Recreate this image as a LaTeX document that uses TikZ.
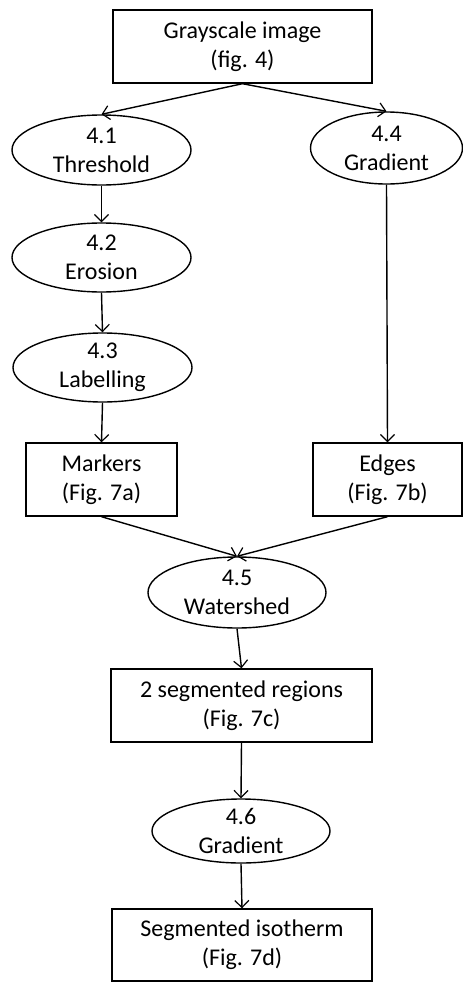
\documentclass[tikz,border=0pt]{standalone}
\usepackage{fontspec}
\setmainfont{Carlito}
\usetikzlibrary{shapes.geometric,arrows.meta}
\begin{document}
\begin{tikzpicture}[x=1pt,y=1pt,
  every node/.style={font=\fontsize{24}{29}\selectfont},
  box/.style={draw,line width=1.4pt,rectangle,inner sep=0pt},
  oval/.style={draw,line width=1.4pt,ellipse,inner sep=0pt},
  txt/.style={align=center,inner sep=0pt},
  conn/.style={line width=1.4pt,-{Straight Barb[length=7pt,width=14pt,line width=1.2pt]}}]
\useasboundingbox (0,0) rectangle (463,-983);
% boxes
\node[box,minimum width=259pt,minimum height=73pt] (top) at (242.5,-46.5) {};
\node[txt] (toptext) at (top) {Grayscale image\\(fig. 4)};
\node[box,minimum width=151pt,minimum height=73pt] (markers) at (101.5,-479.5) {};
\node[txt] (markerstext) at (markers) {Markers\\(Fig. 7a)};
\node[box,minimum width=149pt,minimum height=73pt] (edges) at (387.5,-479.5) {};
\node[txt] (edgestext) at (edges) {Edges\\(Fig. 7b)};
\node[box,minimum width=261pt,minimum height=73pt] (seg) at (241.5,-705.5) {};
\node[txt] (segtext) at (seg) {2 segmented regions\\(Fig. 7c)};
\node[box,minimum width=260pt,minimum height=72pt] (iso) at (242,-945) {};
\node[txt] (isotext) at (iso) {Segmented isotherm\\(Fig. 7d)};
% ellipses
\node[oval,minimum width=179pt,minimum height=70pt] (e41) at (101.5,-150) {};
\node[txt] (e41text) at (e41) {4.1\\Threshold};
\node[oval,minimum width=152pt,minimum height=72pt] (e44) at (386.5,-148) {};
\node[txt] (e44text) at (e44) {4.4\\Gradient};
\node[oval,minimum width=179pt,minimum height=69pt] (e42) at (101.5,-257.5) {};
\node[txt] (e42text) at (e42) {4.2\\Erosion};
\node[oval,minimum width=179pt,minimum height=69pt] (e43) at (102.5,-367.5) {};
\node[txt] (e43text) at (e43) {4.3\\Labelling};
\node[oval,minimum width=178pt,minimum height=71pt] (e45) at (237,-592.5) {};
\node[txt] (e45text) at (e45) {4.5\\Watershed};
\node[oval,minimum width=178pt,minimum height=64pt] (e46) at (241,-831) {};
\node[txt] (e46text) at (e46) {4.6\\Gradient};
% connectors
\draw[conn] (top.south) -- (e41.north);
\draw[conn] (top.south) -- (e44.north);
\draw[conn] (e41.south) -- (e42.north);
\draw[conn] (e42.south) -- (e43.north);
\draw[conn] (e43.south) -- (markers.north);
\draw[conn] (e44.south) -- (edges.north);
\draw[conn] (markers.south) -- (e45.north);
\draw[conn] (edges.south) -- (e45.north);
\draw[conn] (e45.south) -- (seg.north);
\draw[conn] (seg.south) -- (e46.north);
\draw[conn] (e46.south) -- (iso.north);
\end{tikzpicture}
\end{document}
